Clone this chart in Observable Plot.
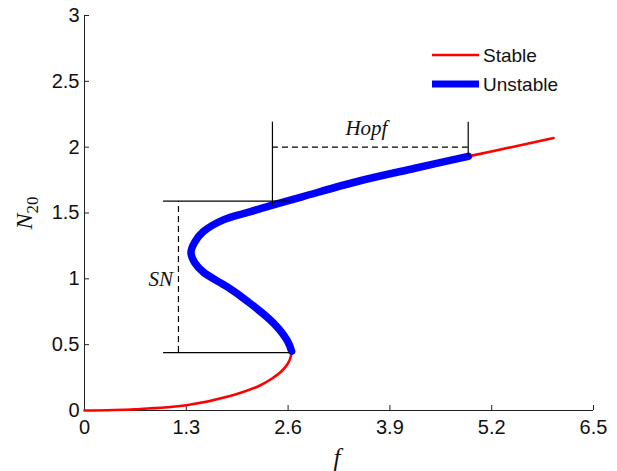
<!DOCTYPE html>
<html><head><meta charset="utf-8">
<script src="https://cdn.jsdelivr.net/npm/d3@7"></script>
<script src="https://cdn.jsdelivr.net/npm/@observablehq/plot@0.6"></script>
<style>body{margin:0;background:#fff}#chart{position:relative;width:617px;height:471px}</style>
</head><body><div id="chart"></div>
<script>
const xTicks = [0, 1.3, 2.6, 3.9, 5.2, 6.5];
const yTicks = [0, 0.5, 1, 1.5, 2, 2.5, 3];

// lower stable branch
const stableLowF = [0, 0.65, 1.3, 1.86, 2.24, 2.40, 2.52, 2.60, 2.635, 2.645];
const stableLowN = [0, 0.01, 0.04, 0.11, 0.19, 0.245, 0.30, 0.36, 0.41, 0.45];
// unstable branch
const unstableF = [2.645, 2.59, 2.42, 2.08, 1.82, 1.52, 1.41, 1.36, 1.41, 1.52, 1.78, 2.12, 2.40, 2.79, 3.52, 4.22, 4.90];
const unstableN = [0.45, 0.53, 0.66, 0.83, 0.94, 1.05, 1.12, 1.20, 1.28, 1.36, 1.45, 1.51, 1.56, 1.625, 1.745, 1.84, 1.93];
// upper stable branch
const stableHighF = [4.9, 5.45, 5.99];
const stableHighN = [1.93, 2.0, 2.07];

// annotations
const snF = [1.01, 2.63];
const snN = [0.44, 1.59];
const snDashF = 1.20;
const hopfF = [2.40, 4.90];
const hopfBottomN = [1.55, 1.93];
const hopfTopN = 2.19;
const hopfDashN = 2.0;
const snLabel = [{t: "SN", f: 1.13, n: 1.0}];
const hopfLabel = [{t: "Hopf", f: 3.60, n: 2.14}];

const toPts = (F, N) => F.map((f, i) => ({f, n: N[i]}));
const low = toPts(stableLowF, stableLowN);
const uns = toPts(unstableF, unstableN);
const high = toPts(stableHighF, stableHighN);
const hopfLines = hopfF.map((f, i) => ({f, b: hopfBottomN[i]}));
const fmt = d => String(d);
const serif = "'Liberation Serif', 'Times New Roman', serif";

const plot = Plot.plot({
  width: 617, height: 471,
  marginLeft: 84, marginRight: 24, marginTop: 15, marginBottom: 61,
  style: {fontFamily: "'Liberation Sans', Arial, sans-serif", background: "#fff", color: "#111"},
  x: {domain: [0, 6.5]},
  y: {domain: [0, 3]},
  marks: [
    // labels
    Plot.axisX(xTicks, {tickSize: 0, tickPadding: 9, fontSize: 20, label: null, tickFormat: fmt, fill: "#111"}),
    Plot.axisY(yTicks, {tickSize: 0, tickPadding: 5, fontSize: 20, label: null, tickFormat: fmt, fill: "#111"}),
    // inward ticks
    Plot.axisX(xTicks, {tickSize: 5, dy: -5, label: null, tickFormat: () => "", stroke: "#222"}),
    Plot.axisY(yTicks, {tickSize: 5, dx: 5, label: null, tickFormat: () => "", stroke: "#222"}),
    Plot.ruleY([0], {stroke: "#222"}),
    Plot.ruleX([0], {stroke: "#222"}),
    Plot.line(low, {x: "f", y: "n", stroke: "#ff0000", strokeWidth: 2.6, curve: "catmull-rom"}),
    Plot.line(high, {x: "f", y: "n", stroke: "#ff0000", strokeWidth: 2.6, curve: "catmull-rom"}),
    Plot.line(uns, {x: "f", y: "n", stroke: "#0000ff", strokeWidth: 7.5, curve: "catmull-rom"}),
    Plot.ruleY(snN, {y: d => d, x1: snF[0], x2: snF[1], stroke: "#000", strokeWidth: 1.2}),
    Plot.ruleX([snDashF], {x: d => d, y1: snN[0], y2: snN[1], stroke: "#000", strokeWidth: 1.2, strokeDasharray: "6,4"}),
    Plot.ruleX(hopfLines, {x: "f", y1: "b", y2: hopfTopN, stroke: "#000", strokeWidth: 1.2}),
    Plot.ruleY([hopfDashN], {y: d => d, x1: hopfF[0], x2: hopfF[1], stroke: "#000", strokeWidth: 1.2, strokeDasharray: "6,4"}),
    Plot.text(snLabel, {x: "f", y: "n", text: "t", textAnchor: "end",
      fontFamily: serif, fontStyle: "italic", fontSize: 21, fill: "#111"}),
    Plot.text(hopfLabel, {x: "f", y: "n", text: "t", textAnchor: "middle",
      fontFamily: serif, fontStyle: "italic", fontSize: 21, fill: "#111"})
  ]
});
document.getElementById("chart").appendChild(plot);

const svg = d3.select(plot);
// y-axis label N_20
const yl = svg.append("text")
  .attr("transform", "translate(32,213) rotate(-90)")
  .attr("text-anchor", "middle")
  .attr("font-family", serif)
  .attr("fill", "#111");
yl.append("tspan").attr("font-style", "italic").attr("font-size", 24).text("N");
yl.append("tspan").attr("font-size", 17).attr("dy", 6).text("20");
// x-axis label f
svg.append("text")
  .attr("x", 337).attr("y", 466)
  .attr("text-anchor", "middle")
  .attr("font-family", serif)
  .attr("font-style", "italic").attr("font-size", 25).attr("fill", "#111")
  .text("f");
// legend
const legend = [{label: "Stable", color: "#ff0000", w: 2.6, y: 55}, {label: "Unstable", color: "#0000ff", w: 7, y: 84}];
const lg = svg.append("g");
legend.forEach(d => {
  lg.append("line").attr("x1", 432).attr("x2", 479).attr("y1", d.y).attr("y2", d.y)
    .attr("stroke", d.color).attr("stroke-width", d.w);
  lg.append("text").attr("x", 483).attr("y", d.y).attr("dy", "0.35em")
    .attr("text-anchor", "start")
    .attr("font-family", "'Liberation Sans', Arial, sans-serif").attr("font-size", 19).attr("fill", "#111")
    .text(d.label);
});
</script>
</body></html>
